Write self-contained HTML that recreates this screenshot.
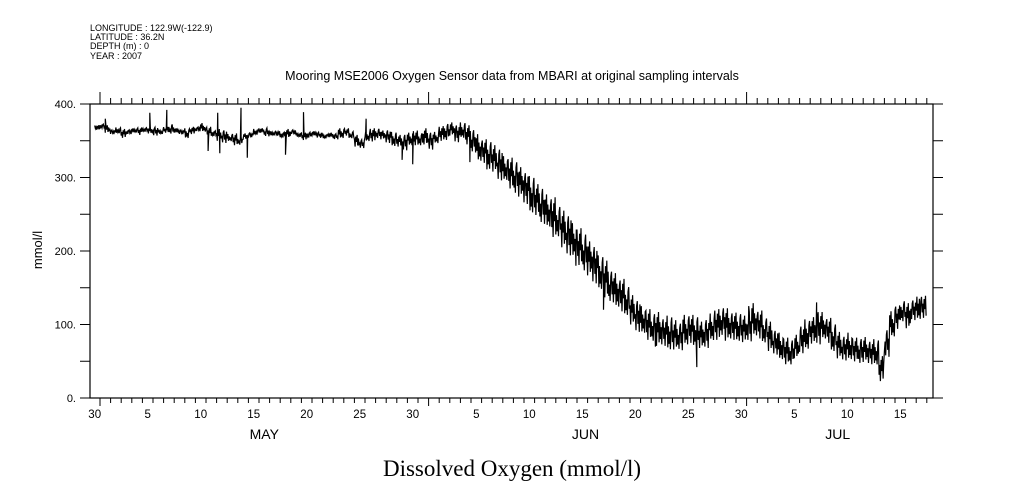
<!DOCTYPE html>
<html><head><meta charset="utf-8"><style>
body{margin:0;background:#fff}
svg{display:block}
text{font-family:"Liberation Sans",sans-serif;fill:#000}
</style></head><body>
<svg id="chart" width="1009" height="504" viewBox="0 0 1009 504" xmlns="http://www.w3.org/2000/svg">
<g font-size="9">
<text x="90" y="31">LONGITUDE : 122.9W(-122.9)</text>
<text x="90" y="40">LATITUDE : 36.2N</text>
<text x="90" y="49">DEPTH (m) : 0</text>
<text x="90" y="59">YEAR : 2007</text>
</g>
<text x="512" y="80" font-size="12.5" text-anchor="middle">Mooring MSE2006 Oxygen Sensor data from MBARI at original sampling intervals</text>
<text transform="translate(42,250) rotate(-90)" font-size="13" text-anchor="middle">mmol/l</text>
<text x="512" y="476" font-size="23" text-anchor="middle" style="font-family:'Liberation Serif',serif">Dissolved Oxygen (mmol/l)</text>
<g id="axes"></g>
<g id="series"></g>
</svg>
<script>
// time in days since May 1 00:00; samples every 0.5 day starting at t=-0.5
const sampleStart = -0.5;
const sampleStep = 0.5;
const midValues = [
368,370,366,362,364,360,362,364,363,365,364,
363,362,365,366,364,362,360,364,366,368,
362,360,358,356,354,352,350,356,358,362,
364,362,360,360,358,360,362,358,356,358,
360,358,356,358,356,360,362,358,350,346,
356,358,360,358,356,352,350,348,352,354,
352,356,350,354,360,362,366,360,364,358,
350,340,336,330,326,318,312,306,300,294,
286,276,270,262,254,246,240,230,222,214,
206,198,190,182,170,162,152,146,140,132,
120,112,106,100,96,94,90,88,86,84,
92,94,90,86,88,96,100,104,100,98,
96,94,98,106,100,92,84,76,70,64,
62,70,80,86,92,96,98,92,82,72,
68,70,66,64,66,62,62,40,75,100,
110,118,112,120,122,124
];
const spreadValues = [
3,3,5,3,4,6,3,3,5,3,4,
6,3,4,7,3,3,7,5,3,6,
7,4,8,9,5,8,6,4,3,4,
3,6,3,3,4,6,3,3,5,4,
3,4,3,3,4,7,5,5,8,6,
7,9,7,6,9,10,8,11,9,10,
9,11,12,8,10,12,9,12,11,13,
16,19,16,20,18,22,17,21,23,20,
22,26,21,25,23,27,22,25,28,24,
25,27,23,26,24,25,22,24,22,21,
20,22,19,21,20,23,19,24,20,19,
21,19,22,18,20,19,21,20,22,19,
20,18,21,23,19,18,20,17,19,18,
18,16,19,21,18,23,19,17,20,18,
17,19,16,18,17,16,18,17,19,18,
16,15,17,14,16,15
];
const spikeTimes = [0.5,4.7,6.3,10.2,11.1,11.3,13.3,13.9,17.5,19.2,25.1,28.5,29.5,34.9,36.5,39.2,44.9,47.5,52.4,56.3,61.2,67.6,77.3];
const spikeValues = [380,388,392,336,388,333,395,327,331,389,380,324,318,321,311,290,180,120,70,42,125,130,135];
// irregular within-sample shape, relative to the sample's spread
const shapePattern = [0.9,-0.5,0.3,-1.0,0.7,-0.2,1.0,-0.8,0.4,-0.6,0.1,-0.9,0.6];

const NS="http://www.w3.org/2000/svg";
const L=90,R=933,T=104,B=398;
const X=t=>100+10.6*t;
const Y=v=>B-(v/400)*(B-T);
function mk(tag,attrs,parent){const e=document.createElementNS(NS,tag);for(const k in attrs)e.setAttribute(k,attrs[k]);parent.appendChild(e);return e;}
const ax=document.getElementById('axes');
const frame=mk('rect',{x:L,y:T,width:R-L,height:B-T,fill:'none',stroke:'#000','stroke-width':1.2},ax);


const yTicks = [0,100,200,300,400];
const yTickLabels = ["0.","100.","200.","300.","400."];
const dayLabelTimes = [-0.5,4.5,9.5,14.5,19.5,24.5,29.5,35.5,40.5,45.5,50.5,55.5,60.5,65.5,70.5,75.5];
const dayLabels = ["30","5","10","15","20","25","30","5","10","15","20","25","30","5","10","15"];
const monthLabelTimes = [15.5,45.8,69.6];
const monthLabels = ["MAY","JUN","JUL"];
const monthStarts = [0,31,61];
for(let v=0;v<=400;v+=50){
  const y=Y(v);
  const a=mk('line',{x1:L-10,x2:L,y1:y,y2:y,stroke:'#000'},ax);
  
  
  const b=mk('line',{x1:R,x2:R+10,y1:y,y2:y,stroke:'#000'},ax);
  
  
}
yTicks.forEach((v,i)=>{
  const t=mk('text',{x:L-14,y:Y(v)+4,'font-size':11,'text-anchor':'end'},ax);
  t.textContent=yTickLabels[i];
  
  
});
for(let k=0;X(k)<=R;k++){
  const x=X(k);
  const big=monthStarts.includes(k);
  const a=mk('line',{x1:x,x2:x,y1:T,y2:T-(big?12:6),stroke:'#000'},ax);
  
  
  const b=mk('line',{x1:x,x2:x,y1:B,y2:B+(big?8:5),stroke:'#000'},ax);
  
  
}
dayLabelTimes.forEach((t,i)=>{
  const e=mk('text',{x:X(t),y:418,'font-size':11.5,'text-anchor':'middle'},ax);
  e.textContent=dayLabels[i];
  
  
});
monthLabelTimes.forEach((t,i)=>{
  const e=mk('text',{x:X(t),y:439,'font-size':14,'text-anchor':'middle'},ax);
  e.textContent=monthLabels[i];
  
  
});
let pts=[];
let k=0;
midValues.forEach((m,i)=>{
  const t=sampleStart+i*sampleStep;
  const s=spreadValues[i];
  for(let j=0;j<8;j++){
    pts.push([t+j*sampleStep/8, m+s*shapePattern[k%shapePattern.length]]);
    k++;
  }
});
spikeTimes.forEach((t,i)=>{pts.push([t,spikeValues[i]]);});
pts.sort((a,b)=>a[0]-b[0]);
const d=pts.map((p,i)=>(i?'L':'M')+X(p[0]).toFixed(1)+' '+Y(p[1]).toFixed(1)).join(' ');
const path=mk('path',{d:d,fill:'none',stroke:'#000','stroke-width':1.2,'stroke-linejoin':'miter'},document.getElementById('series'));


</script>
</body></html>
